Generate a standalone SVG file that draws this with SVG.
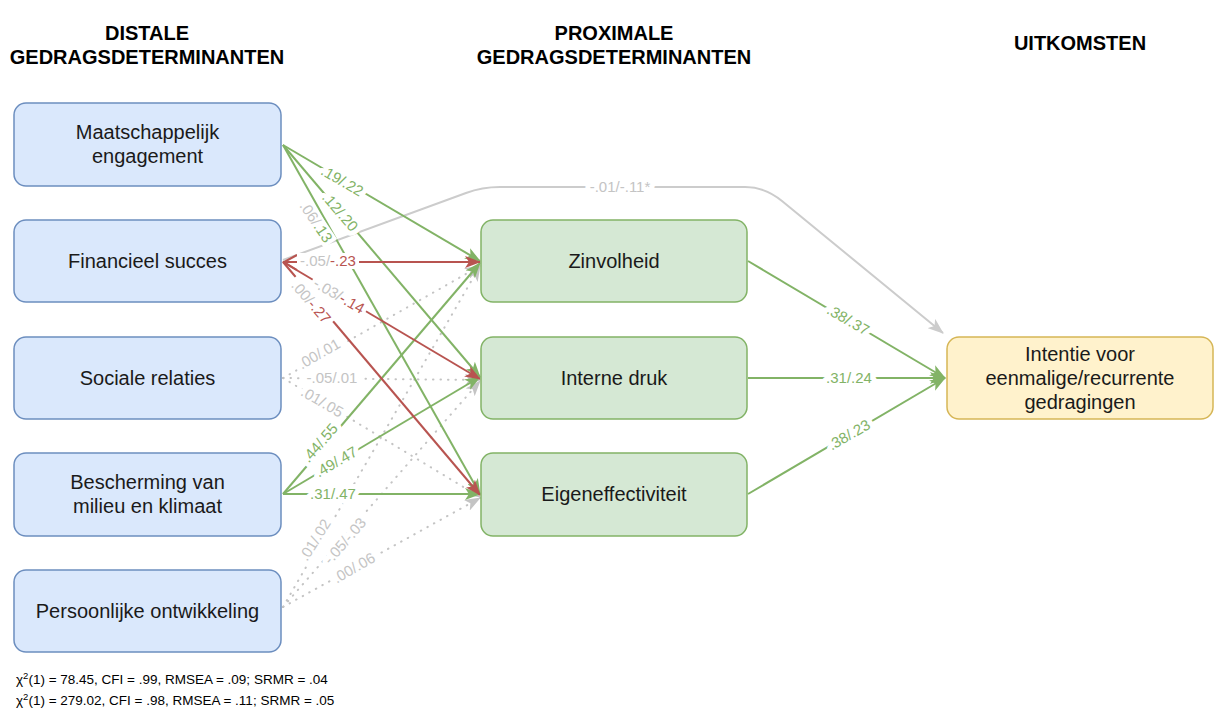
<svg xmlns="http://www.w3.org/2000/svg" width="1214" height="713" viewBox="0 0 1214 713">
  <style>
    .hdr { font-family: "Liberation Sans", Arial, sans-serif; font-size: 20px; font-weight: bold; fill: #000; text-anchor: middle; }
    .nt { font-family: "Liberation Sans", Arial, sans-serif; font-size: 20px; fill: #1a1a1a; text-anchor: middle; }
    .blue { fill: #dae8fc; stroke: #6c8ebf; stroke-width: 1.5; }
    .green { fill: #d5e8d4; stroke: #82b366; stroke-width: 1.5; }
    .yellow { fill: #fff2cc; stroke: #d6b656; stroke-width: 1.5; }
    .eg { fill: none; stroke: #82b366; stroke-width: 2; marker-end: url(#ag); }
    .er { fill: none; stroke: #b85450; stroke-width: 2; marker-end: url(#ar); }
    .ed { fill: none; stroke: #c4c4c4; stroke-width: 2; stroke-dasharray: 0.5 7; stroke-linecap: round; marker-end: url(#ad); }
    .ec { fill: none; stroke: #cccccc; stroke-width: 2; marker-end: url(#ac); }
    .lb { font-family: "Liberation Sans", Arial, sans-serif; font-size: 15px; text-anchor: middle; paint-order: stroke; stroke: #fff; stroke-width: 10px; stroke-linejoin: round; }
    .lt { font-family: "Liberation Sans", Arial, sans-serif; font-size: 15px; text-anchor: middle; }
    .bk { fill: #fff; }
    .lg { fill: #82b366; }
    .lr { fill: #b85450; }
    .lx { fill: #c4c4c4; }
    .fit { font-family: "Liberation Sans", Arial, sans-serif; font-size: 13.5px; fill: #000; }
  </style>
  <defs>
    <marker id="ag" viewBox="0 0 16 12" refX="15" refY="6" markerWidth="16" markerHeight="12" markerUnits="userSpaceOnUse" orient="auto">
      <path d="M0,0 L16,6 L0,12 L4,6 z" fill="#82b366"/>
    </marker>
    <marker id="ar" viewBox="0 0 16 12" refX="15" refY="6" markerWidth="16" markerHeight="12" markerUnits="userSpaceOnUse" orient="auto">
      <path d="M0,0 L16,6 L0,12 L4,6 z" fill="#b85450"/>
    </marker>
    <marker id="ad" viewBox="0 0 16 12" refX="15" refY="6" markerWidth="16" markerHeight="12" markerUnits="userSpaceOnUse" orient="auto">
      <path d="M0,0 L16,6 L0,12 L4,6 z" fill="#c4c4c4"/>
    </marker>
    <marker id="ac" viewBox="0 0 16 12" refX="15" refY="6" markerWidth="16" markerHeight="12" markerUnits="userSpaceOnUse" orient="auto">
      <path d="M0,0 L16,6 L0,12 L4,6 z" fill="#cccccc"/>
    </marker>
  </defs>
  <rect width="1214" height="713" fill="#ffffff"/>

  <!-- column headers -->
  <g id="headers">
    <text class="hdr" x="147" y="40">DISTALE</text>
    <text class="hdr" x="147" y="64">GEDRAGSDETERMINANTEN</text>
    <text class="hdr" x="614" y="40">PROXIMALE</text>
    <text class="hdr" x="614" y="64">GEDRAGSDETERMINANTEN</text>
    <text class="hdr" x="1080" y="50">UITKOMSTEN</text>
  </g>

  <!-- connectors -->
  <g id="connectors">
    <!-- dotted: Sociale relaties -->
    <path class="ed" d="M283,378 L480,266"/>
    <path class="ed" d="M283,378 L480,380"/>
    <path class="ed" d="M283,378 L480,497"/>
    <!-- dotted: Persoonlijke ontwikkeling -->
    <path class="ed" d="M283,607 L480,266"/>
    <path class="ed" d="M283,607 L480,381"/>
    <path class="ed" d="M283,607 L480,498"/>
    <!-- curved direct path to outcome -->
    <path class="ec" d="M283,260 L466,193 Q482,187 500,187 L745,187 Q765,187 782,201 L943,333"/>
    <!-- Maatschappelijk engagement -->
    <path class="eg" d="M283,145 L480,261"/>
    <path class="eg" d="M283,145 L480,377"/>
    <path class="eg" d="M283,145 L480,494"/>
    <!-- Bescherming van milieu en klimaat -->
    <path class="eg" d="M283,494 L480,263"/>
    <path class="eg" d="M283,494 L480,377"/>
    <path class="eg" d="M283,494 L480,494"/>
    <!-- Financieel succes -->
    <path class="er" d="M283,262 L480,262"/>
    <path class="er" d="M283,262 L480,379"/>
    <path class="er" d="M283,262 L480,495"/>
    <path d="M297,255 L284,262 L297,270" fill="none" stroke="#b85450" stroke-width="2"/>
    <!-- proximal to outcome -->
    <path class="eg" d="M748,261 L945,378"/>
    <path class="eg" d="M748,378 L945,378"/>
    <path class="eg" d="M748,494 L945,378"/>

    <!-- path coefficients -->
    <text class="lb lg" transform="translate(342,181) rotate(30)" dy="5">.19/.22</text>
    <text class="lb lg" transform="translate(340,212) rotate(49)" dy="5">.12/.20</text>
    <!-- two-colour labels sit on a white backing box -->
    <g transform="translate(316,222) rotate(56)">
      <rect class="bk" x="-26" y="-8" width="52" height="16"/>
      <text class="lt" dy="5"><tspan class="lx">.06/</tspan><tspan class="lg">.13</tspan></text>
    </g>
    <g transform="translate(328,261)">
      <rect class="bk" x="-31" y="-8" width="62" height="16"/>
      <text class="lt" dy="5"><tspan class="lx">-.05/</tspan><tspan class="lr">-.23</tspan></text>
    </g>
    <g transform="translate(339,296) rotate(30)">
      <rect class="bk" x="-31" y="-8" width="62" height="16"/>
      <text class="lt" dy="5"><tspan class="lx">-.03/</tspan><tspan class="lr">-.14</tspan></text>
    </g>
    <g transform="translate(311,302) rotate(49)">
      <rect class="bk" x="-29" y="-8" width="58" height="16"/>
      <text class="lt" dy="5"><tspan class="lx">.00/</tspan><tspan class="lr">-.27</tspan></text>
    </g>
    <text class="lb lx" transform="translate(319,354) rotate(-30)" dy="5">.00/.01</text>
    <text class="lb lx" transform="translate(332,378)" dy="5">-.05/.01</text>
    <text class="lb lx" transform="translate(322,402) rotate(30)" dy="5">.01/.05</text>
    <text class="lb lg" transform="translate(320,443) rotate(-49)" dy="5">.44/.55</text>
    <text class="lb lg" transform="translate(336,462) rotate(-30)" dy="5">.49/.47</text>
    <text class="lb lg" transform="translate(333,494)" dy="5">.31/.47</text>
    <text class="lb lx" transform="translate(315,540) rotate(-58)" dy="5">.01/.02</text>
    <text class="lb lx" transform="translate(345,541) rotate(-49)" dy="5">-.05/-.03</text>
    <text class="lb lx" transform="translate(354,568) rotate(-30)" dy="5">.00/.06</text>
    <text class="lb lx" transform="translate(620,187)" dy="5">-.01/-.11*</text>
    <text class="lb lg" transform="translate(848,320) rotate(30)" dy="5">.38/.37</text>
    <text class="lb lg" transform="translate(849,378)" dy="5">.31/.24</text>
    <text class="lb lg" transform="translate(849,435) rotate(-30)" dy="5">.38/.23</text>
  </g>

  <!-- distal determinants -->
  <g id="maatschappelijk-engagement">
    <rect class="blue" x="14" y="103" width="267" height="83" rx="12"/>
    <text class="nt" x="147.5" y="139">Maatschappelijk</text>
    <text class="nt" x="147.5" y="163">engagement</text>
  </g>
  <g id="financieel-succes">
    <rect class="blue" x="14" y="220" width="267" height="82" rx="12"/>
    <text class="nt" x="147.5" y="268">Financieel succes</text>
  </g>
  <g id="sociale-relaties">
    <rect class="blue" x="14" y="337" width="267" height="82" rx="12"/>
    <text class="nt" x="147.5" y="385">Sociale relaties</text>
  </g>
  <g id="bescherming-milieu-klimaat">
    <rect class="blue" x="14" y="453" width="267" height="83" rx="12"/>
    <text class="nt" x="147.5" y="489">Bescherming van</text>
    <text class="nt" x="147.5" y="513">milieu en klimaat</text>
  </g>
  <g id="persoonlijke-ontwikkeling">
    <rect class="blue" x="14" y="570" width="267" height="82" rx="12"/>
    <text class="nt" x="147.5" y="618">Persoonlijke ontwikkeling</text>
  </g>

  <!-- proximal determinants -->
  <g id="zinvolheid">
    <rect class="green" x="481" y="220" width="266" height="82" rx="12"/>
    <text class="nt" x="614" y="268">Zinvolheid</text>
  </g>
  <g id="interne-druk">
    <rect class="green" x="481" y="337" width="266" height="82" rx="12"/>
    <text class="nt" x="614" y="385">Interne druk</text>
  </g>
  <g id="eigeneffectiviteit">
    <rect class="green" x="481" y="453" width="266" height="83" rx="12"/>
    <text class="nt" x="614" y="501">Eigeneffectiviteit</text>
  </g>

  <!-- outcome -->
  <g id="intentie">
    <rect class="yellow" x="947" y="337" width="266" height="82" rx="12"/>
    <text class="nt" x="1080" y="361">Intentie voor</text>
    <text class="nt" x="1080" y="385">eenmalige/recurrente</text>
    <text class="nt" x="1080" y="409">gedragingen</text>
  </g>

  <!-- model fit -->
  <g id="fit-indices">
    <text class="fit" x="16" y="684">χ<tspan font-size="9.5" dy="-5">2</tspan><tspan dy="5">(1) = 78.45, CFI = .99, RMSEA = .09; SRMR = .04</tspan></text>
    <text class="fit" x="16" y="705">χ<tspan font-size="9.5" dy="-5">2</tspan><tspan dy="5">(1) = 279.02, CFI = .98, RMSEA = .11; SRMR = .05</tspan></text>
  </g>
</svg>
